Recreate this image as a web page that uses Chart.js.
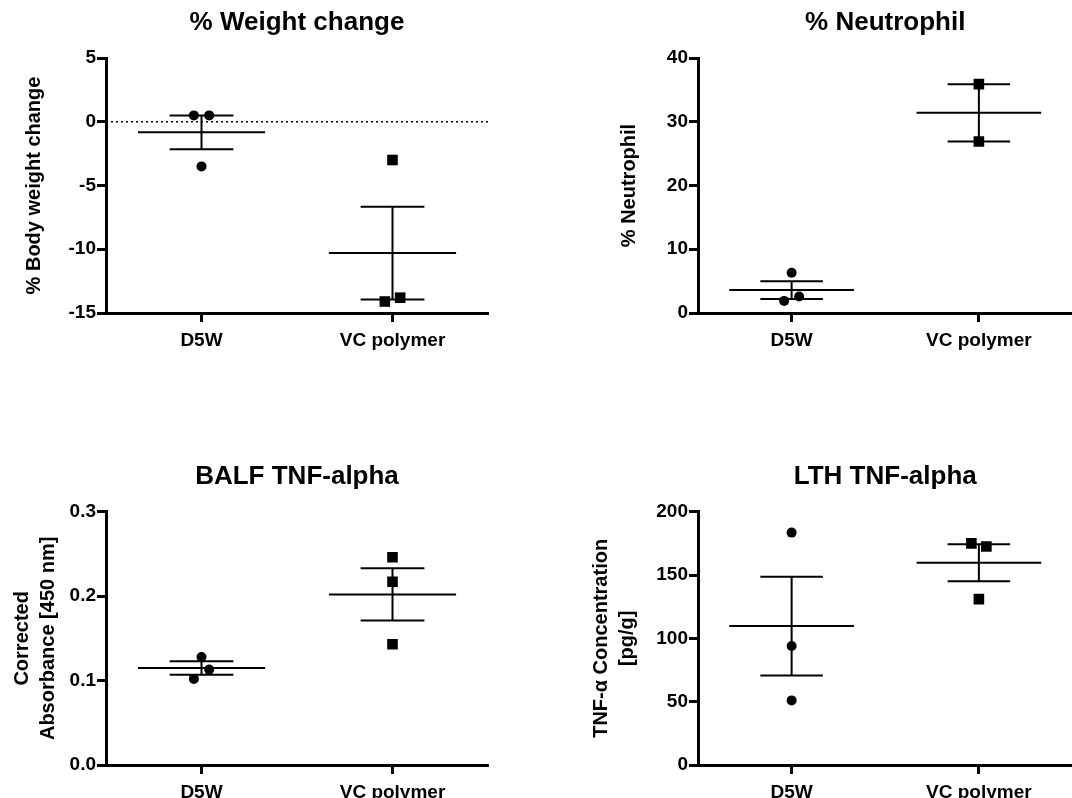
<!DOCTYPE html>
<html>
<head>
<meta charset="utf-8">
<script src="https://cdn.jsdelivr.net/npm/chart.js@4.4.0/dist/chart.umd.min.js"></script>
<style>
  html, body { margin: 0; padding: 0; background: #fff; }
  body { width: 1072px; height: 798px; overflow: hidden; position: relative; }
  canvas { position: absolute; }
</style>
</head>
<body>
<canvas id="weight_chart" width="536" height="399" style="left:0px;top:0px"></canvas>
<canvas id="neutrophil_chart" width="544" height="399" style="left:536px;top:0px"></canvas>
<canvas id="balf_chart" width="536" height="410" style="left:0px;top:399px"></canvas>
<canvas id="lth_chart" width="544" height="410" style="left:536px;top:399px"></canvas>
<script>
var groups = ["D5W", "VC polymer"];

// % weight change
var weightD5W = [0.5, 0.5, -3.5];
var weightVC = [-3.0, -14.1, -13.8];
var weightMean = [-0.83, -10.3];
var weightSem = [1.33, 3.64];

// % neutrophil
var neutroD5W = [6.3, 1.9, 2.6];
var neutroVC = [35.9, 26.9];
var neutroMean = [3.6, 31.4];
var neutroSem = [1.4, 4.5];

// BALF TNF-alpha
var balfD5W = [0.128, 0.113, 0.102];
var balfVC = [0.246, 0.217, 0.143];
var balfMean = [0.115, 0.202];
var balfSem = [0.008, 0.031];

// LTH TNF-alpha
var lthD5W = [183.5, 94, 51];
var lthVC = [175, 172.5, 131];
var lthMean = [109.7, 159.7];
var lthSem = [39, 14.6];

// horizontal scatter of the dots (in category units)
var weightJitter = [[-0.04, 0.04, 0], [0, -0.04, 0.04]];
var neutroJitter = [[0, -0.04, 0.04], [0, 0]];
var balfJitter = [[0, 0.04, -0.04], [0, 0, 0]];
var lthJitter = [[0, 0, 0], [-0.04, 0.04, 0]];

var FONT = "'Liberation Sans', Arial, sans-serif";

function pointsOf(values, idx, jitter) {
  return values.map(function (v, k) { return { x: idx + jitter[k], y: v }; });
}

function seg(data, dash) {
  return {
    data: data,
    showLine: true,
    borderColor: "#000",
    borderWidth: dash ? 1.5 : 2,
    borderDash: dash || [],
    pointRadius: 0,
    fill: false,
    borderCapStyle: "butt"
  };
}

function errorSets(mean, sem) {
  var sets = [];
  for (var i = 0; i < mean.length; i++) {
    var m = mean[i], s = sem[i];
    sets.push(seg([{ x: i - 0.333, y: m }, { x: i + 0.333, y: m }]));
    sets.push(seg([{ x: i, y: m - s }, { x: i, y: m + s }]));
    sets.push(seg([{ x: i - 0.167, y: m + s }, { x: i + 0.167, y: m + s }]));
    sets.push(seg([{ x: i - 0.167, y: m - s }, { x: i + 0.167, y: m - s }]));
  }
  return sets;
}

function makePanel(id, cfg) {
  var datasets = [
    {
      data: pointsOf(cfg.d5w, 0, cfg.jitter[0]),
      pointStyle: "circle",
      pointRadius: 5,
      pointBackgroundColor: "#000",
      pointBorderWidth: 0
    },
    {
      data: pointsOf(cfg.vc, 1, cfg.jitter[1]),
      pointStyle: "rect",
      pointRadius: 7.5,
      pointBackgroundColor: "#000",
      pointBorderWidth: 0
    }
  ].concat(errorSets(cfg.mean, cfg.sem));

  if (cfg.zeroLine) {
    datasets.push(seg([{ x: -0.5, y: 0 }, { x: 1.5, y: 0 }], [2, 3]));
  }

  return new Chart(document.getElementById(id), {
    type: "scatter",
    data: { datasets: datasets },
    options: {
      responsive: false,
      animation: false,
      events: [],
      layout: { padding: { left: 0, top: 0, right: cfg.padRight, bottom: cfg.padBottom } },
      plugins: {
        legend: { display: false },
        tooltip: { enabled: false },
        title: {
          display: true,
          text: cfg.title,
          color: "#000",
          fullSize: false,
          font: { family: FONT, size: 26, weight: "bold", lineHeight: 1.2 },
          padding: { top: cfg.titleTop, bottom: cfg.titleBottom }
        }
      },
      scales: {
        x: {
          type: "linear",
          min: -0.5,
          max: 1.5,
          afterBuildTicks: function (scale) { scale.ticks = [{ value: 0 }, { value: 1 }]; },
          afterFit: function (scale) { scale.height = 40; },
          grid: { display: true, drawOnChartArea: false, drawTicks: true, tickLength: 9, tickWidth: 3, color: "#000" },
          border: { display: true, width: 3, color: "#000" },
          ticks: {
            color: "#000",
            padding: 7,
            font: { family: FONT, size: 19, weight: "bold" },
            callback: function (v) { return groups[Math.round(v)]; }
          }
        },
        y: {
          min: cfg.yMin,
          max: cfg.yMax,
          afterFit: function (scale) { scale.width = cfg.yWidth; },
          grid: { display: true, drawOnChartArea: false, drawTicks: true, tickLength: 9, tickWidth: 3, color: "#000" },
          border: { display: true, width: 3, color: "#000" },
          ticks: {
            stepSize: cfg.yStep,
            color: "#000",
            padding: 1,
            font: { family: FONT, size: 19, weight: "bold" },
            callback: cfg.tickFormat || function (v) { return v; }
          },
          title: {
            display: true,
            text: cfg.yTitle,
            color: "#000",
            font: { family: FONT, size: 20, weight: "bold", lineHeight: 1.3 },
            padding: { top: cfg.yTitlePad, bottom: 0 }
          }
        }
      }
    }
  });
}

makePanel("weight_chart", {
  title: "% Weight change", yTitle: "% Body weight change",
  d5w: weightD5W, vc: weightVC, mean: weightMean, sem: weightSem, jitter: weightJitter,
  yMin: -15, yMax: 5, yStep: 5, zeroLine: true,
  yWidth: 106, yTitlePad: 21, padRight: 48, padBottom: 46, titleTop: 7.4, titleBottom: 19.4
});

makePanel("neutrophil_chart", {
  title: "% Neutrophil", yTitle: "% Neutrophil",
  d5w: neutroD5W, vc: neutroVC, mean: neutroMean, sem: neutroSem, jitter: neutroJitter,
  yMin: 0, yMax: 40, yStep: 10,
  yWidth: 162, yTitlePad: 80, padRight: 0, padBottom: 46, titleTop: 7.4, titleBottom: 19.4
});

makePanel("balf_chart", {
  title: "BALF TNF-alpha", yTitle: ["Corrected", "Absorbance [450 nm]"],
  d5w: balfD5W, vc: balfVC, mean: balfMean, sem: balfSem, jitter: balfJitter,
  yMin: 0, yMax: 0.3, yStep: 0.1,
  tickFormat: function (v) { return Number(v).toFixed(1); },
  yWidth: 106, yTitlePad: 9, padRight: 48, padBottom: 4, titleTop: 62, titleBottom: 19.5
});

makePanel("lth_chart", {
  title: "LTH TNF-alpha", yTitle: ["TNF-\u03b1 Concentration", "[pg/g]"],
  d5w: lthD5W, vc: lthVC, mean: lthMean, sem: lthSem, jitter: lthJitter,
  yMin: 0, yMax: 200, yStep: 50,
  yWidth: 162, yTitlePad: 52, padRight: 0, padBottom: 4, titleTop: 62, titleBottom: 19.5
});
</script>
</body>
</html>
